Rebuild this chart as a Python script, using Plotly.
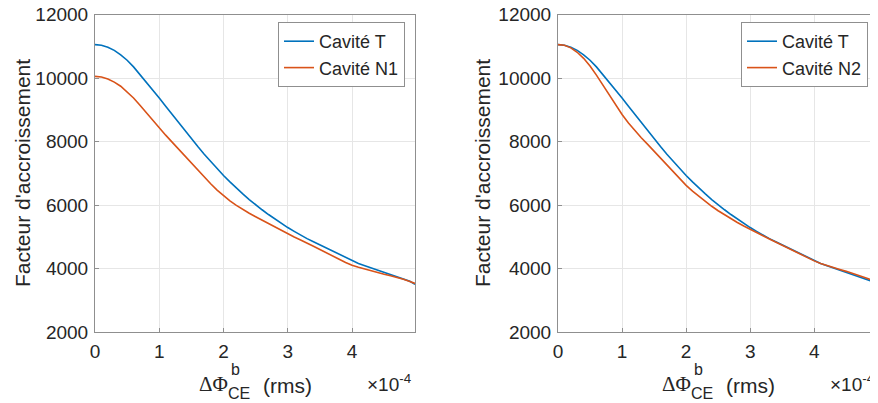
import plotly.graph_objects as go
from plotly.subplots import make_subplots

# x in units of 1e-4 (rms)
x_vals = [0.0, 0.1, 0.2, 0.3, 0.4, 0.5, 0.6, 0.7, 0.8, 0.9,
          1.0, 1.1, 1.2, 1.3, 1.4, 1.5, 1.6, 1.7, 1.8, 1.9,
          2.0, 2.1, 2.2, 2.3, 2.4, 2.5, 2.6, 2.7, 2.8, 2.9,
          3.0, 3.1, 3.2, 3.3, 3.4, 3.5, 3.6, 3.7, 3.8, 3.9,
          4.0, 4.1, 4.2, 4.3, 4.4, 4.5, 4.6, 4.7, 4.8, 4.9, 4.98]

cavite_t = [11050, 11030, 10970, 10870, 10730, 10560, 10350, 10110, 9870, 9620,
            9370, 9110, 8850, 8590, 8330, 8080, 7840, 7600, 7370, 7150,
            6930, 6730, 6530, 6350, 6170, 6000, 5850, 5700, 5560, 5420,
            5290, 5170, 5050, 4940, 4840, 4740, 4640, 4540, 4440, 4340,
            4240, 4160, 4090, 4020, 3950, 3890, 3820, 3760, 3690, 3600, 3500]

cavite_n1 = [10050, 10030, 9970, 9870, 9740, 9570, 9370, 9140, 8900, 8660,
             8430, 8200, 7980, 7760, 7530, 7300, 7080, 6870, 6670, 6470,
             6290, 6130, 5990, 5860, 5740, 5630, 5520, 5410, 5310, 5200,
             5080, 4990, 4900, 4810, 4700, 4600, 4490, 4390, 4290, 4190,
             4100, 4040, 3980, 3920, 3870, 3820, 3770, 3720, 3660, 3590, 3530]

cavite_n2 = [11050, 11030, 10950, 10810, 10620, 10380, 10090, 9770, 9450, 9140,
             8850, 8580, 8340, 8120, 7910, 7690, 7470, 7250, 7030, 6820,
             6620, 6440, 6270, 6110, 5960, 5820, 5690, 5570, 5450, 5340,
             5230, 5130, 5030, 4930, 4830, 4730, 4630, 4530, 4430, 4330,
             4240, 4160, 4090, 4030, 3970, 3910, 3850, 3780, 3710, 3640, 3570]

x_ticks = [0, 1, 2, 3, 4]
y_ticks = [2000, 4000, 6000, 8000, 10000, 12000]
y_tick_text = ["2000", "4000", "6000", "8000", "10000", "12000"]

BLUE = "#0072BD"
ORANGE = "#D95319"
TXT = "#262626"

# the page body has an 8px margin, so the figure is sized to fit the 878x403 window
PAGE_OFF = 8
W, H = 878 - PAGE_OFF, 403 - PAGE_OFF


def fx(px):
    return (px - PAGE_OFF) / W


def fy(py):
    return 1 - (py - PAGE_OFF) / H


fig = make_subplots(rows=1, cols=2)

# ── Left: Cavité T vs N1 ───────────────────────────────────────────────────
fig.add_trace(go.Scatter(x=x_vals, y=cavite_t, name="Cavité T", mode="lines",
                         line=dict(color=BLUE, width=1.6), legend="legend"), row=1, col=1)
fig.add_trace(go.Scatter(x=x_vals, y=cavite_n1, name="Cavité N1", mode="lines",
                         line=dict(color=ORANGE, width=1.6), legend="legend"), row=1, col=1)

# ── Right: Cavité T vs N2 ──────────────────────────────────────────────────
fig.add_trace(go.Scatter(x=x_vals, y=cavite_t, name="Cavité T", mode="lines",
                         line=dict(color=BLUE, width=1.6), legend="legend2"), row=1, col=2)
fig.add_trace(go.Scatter(x=x_vals, y=cavite_n2, name="Cavité N2", mode="lines",
                         line=dict(color=ORANGE, width=1.6), legend="legend2"), row=1, col=2)

axis_style = dict(
    showline=True, linecolor="#8f8f8f", linewidth=1, mirror=True,
    showgrid=True, gridcolor="#e6e6e6", gridwidth=1, zeroline=False,
    ticks="inside", ticklen=4, tickcolor="#8f8f8f", automargin=False,
    ticklabeloverflow="allow", ticklabelstandoff=2,
    tickfont=dict(family="Liberation Sans, Arial", size=19, color=TXT),
)
fig.update_xaxes(range=[0, 4.98], tickvals=x_ticks, **axis_style)
fig.update_yaxes(range=[2000, 12000], tickvals=y_ticks, ticktext=y_tick_text, **axis_style)

fig.update_layout(
    xaxis=dict(domain=[fx(95), fx(415)]),
    xaxis2=dict(domain=[fx(558), min(fx(877), 1.0)]),
    yaxis=dict(domain=[fy(332), fy(14.5)]),
    yaxis2=dict(domain=[fy(332), fy(14.5)]),
)

legend_style = dict(
    yanchor="top", y=fy(22), xanchor="right",
    bgcolor="white", bordercolor="#8f8f8f", borderwidth=1,
    font=dict(family="Liberation Sans, Arial", size=18, color=TXT),
    tracegroupgap=0,
)
fig.update_layout(
    legend=dict(x=fx(405), **legend_style),
    legend2=dict(x=fx(868), **legend_style),
)


# ── Axis labels as annotations (stacked sup/sub like TeX) ─────────────────
def px_note(text, px, py, size, family="Liberation Sans, Arial", xanchor="left", angle=0):
    fig.add_annotation(
        text=text, x=fx(px), y=fy(py), xref="paper", yref="paper",
        xanchor=xanchor, yanchor="middle", showarrow=False, textangle=angle,
        font=dict(family=family, size=size, color=TXT),
    )


for off in (0, 463):
    px_note("ΔΦ", 197 + off, 384, 21, family="Liberation Serif, Times New Roman")
    px_note("b", 229 + off, 369, 16)
    px_note("CE", 226 + off, 393, 16)
    px_note("(rms)", 261 + off, 385, 21)
    px_note("×10<sup>-4</sup>", 413 + off, 383, 19, xanchor="right")

px_note("Facteur d'accroissement", 22, 173, 21, xanchor="center", angle=-90)
px_note("Facteur d'accroissement", 482, 173, 21, xanchor="center", angle=-90)

fig.update_layout(
    width=W, height=H,
    margin=dict(l=0, r=0, t=0, b=0),
    plot_bgcolor="white", paper_bgcolor="white",
    font=dict(family="Liberation Sans, Arial", color=TXT),
)

fig.write_html("out.html")
